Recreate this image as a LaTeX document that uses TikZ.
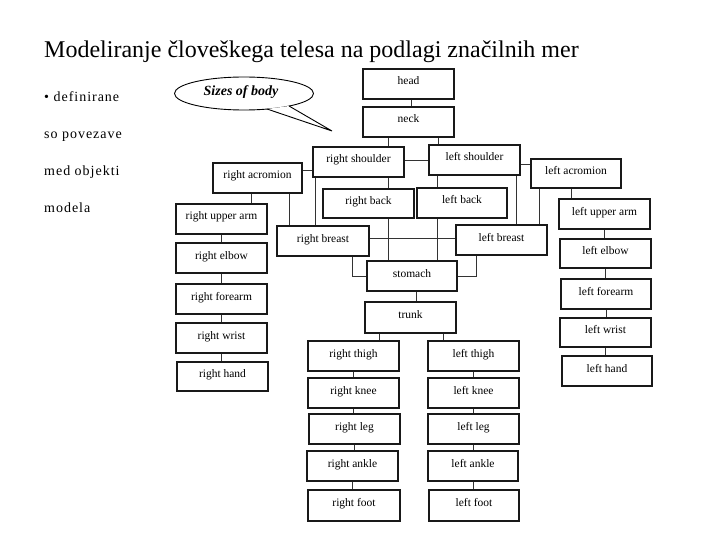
\documentclass[tikz,border=0pt]{standalone}
\usepackage{fontspec}
\setmainfont{Liberation Serif}
\usetikzlibrary{calc}
\begin{document}
\begin{tikzpicture}[x=1pt,y=-1pt,
  box/.style={draw=black!90,line width=1.1pt,fill=white,minimum width=91pt,minimum height=30pt,inner sep=0pt,
    text height=9pt,text depth=7pt,
    font=\fontsize{11.5}{13}\selectfont,text=black},
  conn/.style={draw=black!80,line width=0.9pt},
  titletext/.style={anchor=base west,inner sep=0pt,font=\fontsize{24}{28}\selectfont},
  bullettext/.style={anchor=base west,inner sep=0pt,font=\fontsize{14}{16}\selectfont\addfontfeature{LetterSpace=7}}]
\useasboundingbox (0,0) rectangle (720,540);
% title and bullets
\node[titletext] (title) at (44,58) {Modeliranje človeškega telesa na podlagi značilnih mer};
\node[bullettext] (b1) at (44,102) {• definirane};
\node[bullettext] (b2) at (44,139) {so povezave};
\node[bullettext] (b3) at (44,176) {med objekti};
\node[bullettext] (b4) at (44,212) {modela};
% speech bubble
\draw[line width=0.9pt] (244,93.5) ellipse [x radius=69.5, y radius=16.5];
\coordinate (tA) at (267,109);
\coordinate (tB) at (289,106);
\coordinate (tT) at (332,131);
\fill[white] (tA) -- (tT) -- (tB) -- cycle;
\draw[line width=0.9pt] (tA) -- (tT) -- (tB);
\node[font=\fontsize{14}{16}\selectfont\bfseries\itshape] (bubble) at (241,92) {Sizes of body};
% connectors
\foreach \xx in {251,289,315,352,379,388,411,416,437,438,443,476,516,539,571} {\coordinate (x\xx) at (\xx,0);}
\foreach \yy in {160,164,170,238} {\coordinate (y\yy) at (0,\yy);}
% boxes
\node[box] (head) at (408.5,84) {head};
\node[box] (neck) at (408.5,122) {neck};
\node[box] (rs) at (358.5,162) {right shoulder};
\node[box] (ls) at (474.5,160) {left shoulder};
\node[box,minimum width=89pt] (ra) at (257.5,178) {right acromion};
\node[box,minimum width=90pt,minimum height=29pt] (la) at (576,173.5) {left acromion};
\node[box,minimum height=29pt] (rb) at (368.5,203.5) {right back};
\node[box,minimum width=90pt] (lb) at (462,203) {left back};
\node[box,minimum width=92pt] (rbr) at (323,241) {right breast};
\node[box] (lbr) at (501.5,240) {left breast};
\node[box,minimum width=90pt] (stomach) at (412,276) {stomach};
\node[box,minimum height=31pt] (trunk) at (410.5,317.5) {trunk};
\node[box] (rua) at (221.5,219) {right upper arm};
\node[box] (re) at (221.5,258) {right elbow};
\node[box] (rf) at (221.5,299) {right forearm};
\node[box] (rw) at (221.5,338) {right wrist};
\node[box,minimum height=29pt] (rh) at (222.5,376.5) {right hand};
\node[box] (lua) at (604.5,214) {left upper arm};
\node[box,minimum height=29pt] (le) at (605.5,253.5) {left elbow};
\node[box,minimum width=90pt] (lf) at (606,294) {left forearm};
\node[box,minimum height=29pt] (lw) at (605.5,332.5) {left wrist};
\node[box,minimum width=90pt] (lh) at (607,371) {left hand};
\node[box] (rt) at (353.5,356) {right thigh};
\node[box] (rk) at (353.5,393) {right knee};
\node[box] (rl) at (354.5,429) {right leg};
\node[box] (ran) at (352.5,466) {right ankle};
\node[box,minimum width=92pt,minimum height=31pt] (rft) at (354,505.5) {right foot};
\node[box] (lt) at (473.5,356) {left thigh};
\node[box] (lk) at (473.5,393) {left knee};
\node[box] (ll) at (473.5,429) {left leg};
\node[box,minimum width=90pt] (lan) at (473,466) {left ankle};
\node[box,minimum width=90pt,minimum height=31pt] (lft) at (474,505.5) {left foot};
\draw[conn] (head.south -| x411) -- (neck.north -| x411);
\draw[conn] (neck.south -| x388) -- (rs.north -| x388);
\draw[conn] (neck.south -| x438) -- (ls.north -| x438);
\draw[conn] (rs.east |- y160) -- (ls.west |- y160);
\draw[conn] (ra.east |- y170) -- (rs.west |- y170);
\draw[conn] (ls.east |- y164) -- (la.west |- y164);
\draw[conn] (rs.south -| x388) -- (rb.north -| x388);
\draw[conn] (rb.south -| x388) -- (stomach.north -| x388);
\draw[conn] (ls.south -| x437) -- (lb.north -| x437);
\draw[conn] (lb.south -| x437) -- (stomach.north -| x437);
\draw[conn] (rs.south -| x315) -- (rbr.north -| x315);
\draw[conn] (ls.south -| x516) -- (lbr.north -| x516);
\draw[conn] (ra.south -| x289) -- (rbr.north -| x289);
\draw[conn] (la.south -| x539) -- (lbr.north -| x539);
\draw[conn] (ra.south -| x251) -- (rua.north -| x251);
\draw[conn] (la.south -| x571) -- (lua.north -| x571);
\draw[conn] (rbr.east |- y238) -- (lbr.west |- y238);
\draw[conn] (rbr.south -| x352) |- (stomach.west);
\draw[conn] (lbr.south -| x476) |- (stomach.east);
\draw[conn] (stomach.south -| x416) -- (trunk.north -| x416);
\draw[conn] (trunk.south -| x379) -- (rt.north -| x379);
\draw[conn] (trunk.south -| x443) -- (lt.north -| x443);
\draw[conn] (rua.south) -- (rua.south |- re.north);
\draw[conn] (re.south) -- (re.south |- rf.north);
\draw[conn] (rf.south) -- (rf.south |- rw.north);
\draw[conn] (rw.south) -- (rw.south |- rh.north);
\draw[conn] (lua.south) -- (lua.south |- le.north);
\draw[conn] (le.south) -- (le.south |- lf.north);
\draw[conn] (lf.south) -- (lf.south |- lw.north);
\draw[conn] (lw.south) -- (lw.south |- lh.north);
\draw[conn] (rt.south) -- (rt.south |- rk.north);
\draw[conn] (rk.south) -- (rk.south |- rl.north);
\draw[conn] (rl.south) -- (rl.south |- ran.north);
\draw[conn] (ran.south) -- (ran.south |- rft.north);
\draw[conn] (lt.south) -- (lt.south |- lk.north);
\draw[conn] (lk.south) -- (lk.south |- ll.north);
\draw[conn] (ll.south) -- (ll.south |- lan.north);
\draw[conn] (lan.south) -- (lan.south |- lft.north);
\end{tikzpicture}
\end{document}
